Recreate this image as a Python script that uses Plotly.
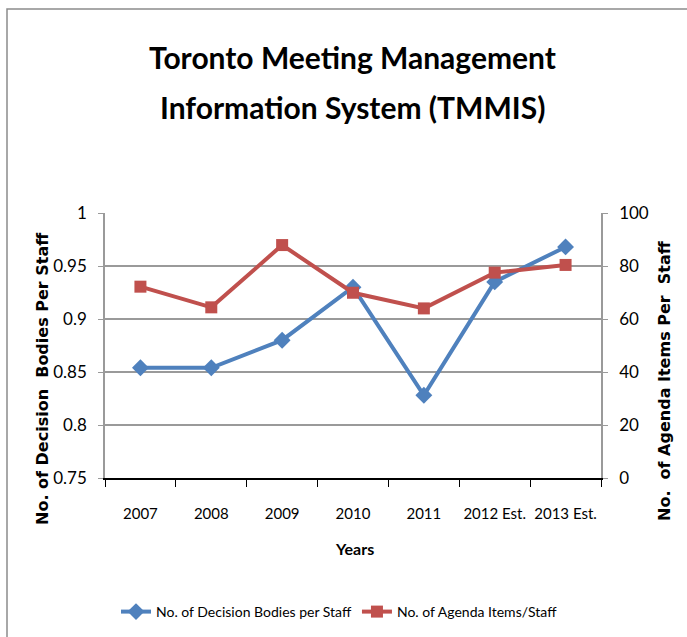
import plotly.graph_objects as go

years = ["2007", "2008", "2009", "2010", "2011", "2012 Est.", "2013 Est."]
decision_bodies_per_staff = [0.854, 0.854, 0.880, 0.930, 0.828, 0.935, 0.968]
agenda_items_per_staff = [72.2, 64.4, 87.9, 69.9, 64.0, 77.5, 80.4]

left_ticks = [0.75, 0.8, 0.85, 0.9, 0.95, 1]
right_ticks = [0, 20, 40, 60, 80, 100]

FONT = "Lato, sans-serif"
AXFONT = "DejaVu Sans, sans-serif"
BLUE = "#4F81BD"
RED = "#C0504D"
GRID = "#9a9a9a"

W, H = 687, 637
L, R, T, B = 105, 86, 213, 159
pw, ph = W - L - R, H - T - B

def px(x):
    return (x - L) / pw

def py(y):
    return (H - B - y) / ph

fig = go.Figure()
fig.add_trace(go.Scatter(
    x=years, y=decision_bodies_per_staff, name="No. of Decision Bodies per Staff",
    mode="lines+markers", line=dict(color=BLUE, width=4),
    marker=dict(symbol="diamond", size=13, color=BLUE), yaxis="y"))
fig.add_trace(go.Scatter(
    x=years, y=agenda_items_per_staff, name="No. of Agenda Items/Staff",
    mode="lines+markers", line=dict(color=RED, width=4),
    marker=dict(symbol="square", size=12, color=RED), yaxis="y2"))

fig.update_layout(
    width=W, height=H,
    margin=dict(l=L, r=R, t=T, b=B, autoexpand=False),
    paper_bgcolor="white", plot_bgcolor="white",
    font=dict(family=FONT, size=16, color="black"),
    showlegend=True,
    legend=dict(orientation="h", x=px(116), y=py(612), xanchor="left", yanchor="middle",
                font=dict(size=14), itemwidth=30, tracegroupgap=0),
    xaxis=dict(type="category", range=[-0.5, 6.5], showline=True, linecolor="black", linewidth=1.5,
               ticks="outside", tickson="boundaries", ticklen=7, tickcolor="black",
               showgrid=False, tickfont=dict(size=15), tickangle=0, ticklabelstandoff=21),
    yaxis=dict(range=[0.75, 1], tickvals=left_ticks, showgrid=True, gridcolor=GRID,
               gridwidth=1.5, showline=True, linecolor=GRID, linewidth=1.5,
               ticks="outside", ticklen=5, tickcolor=GRID, zeroline=False,
               tickfont=dict(size=17), ticklabelstandoff=8),
    yaxis2=dict(range=[0, 100], tickvals=right_ticks, overlaying="y", side="right",
                showgrid=False, showline=True, linecolor=GRID, linewidth=1.5,
                ticks="outside", ticklen=5, tickcolor=GRID, zeroline=False,
                tickfont=dict(size=17), ticklabelstandoff=8),
    annotations=[
        dict(text="<b>Toronto Meeting Management</b>", xref="paper", yref="paper",
             x=px(352), y=py(57), showarrow=False, font=dict(size=30),
             xanchor="center", yanchor="middle"),
        dict(text="<b>Information System (TMMIS)</b>", xref="paper", yref="paper",
             x=px(352), y=py(107), showarrow=False, font=dict(size=30),
             xanchor="center", yanchor="middle"),
        dict(text="<b>Years</b>", xref="paper", yref="paper", x=px(354), y=py(548),
             showarrow=False, font=dict(size=16), xanchor="center", yanchor="middle"),
        dict(text="<b>No. of Decision\u00a0\u00a0Bodies Per Staff</b>", xref="paper", yref="paper",
             x=px(42), y=py(379), textangle=-90, showarrow=False,
             font=dict(size=16, family=AXFONT), xanchor="center", yanchor="middle"),
        dict(text="<b>No.\u00a0\u00a0of Agenda Items Per\u00a0\u00a0Staff</b>", xref="paper", yref="paper",
             x=px(664), y=py(381), textangle=-90, showarrow=False,
             font=dict(size=16, family=AXFONT), xanchor="center", yanchor="middle"),
    ],
    shapes=[
        dict(type="rect", xref="paper", yref="paper", x0=px(7), x1=px(720), y0=py(700), y1=py(9),
             line=dict(color="#8c8c8c", width=1.5), layer="below"),
    ],
)

fig.write_html("out.html", config={"displayModeBar": False},
               post_script="document.body.style.margin='0';")
